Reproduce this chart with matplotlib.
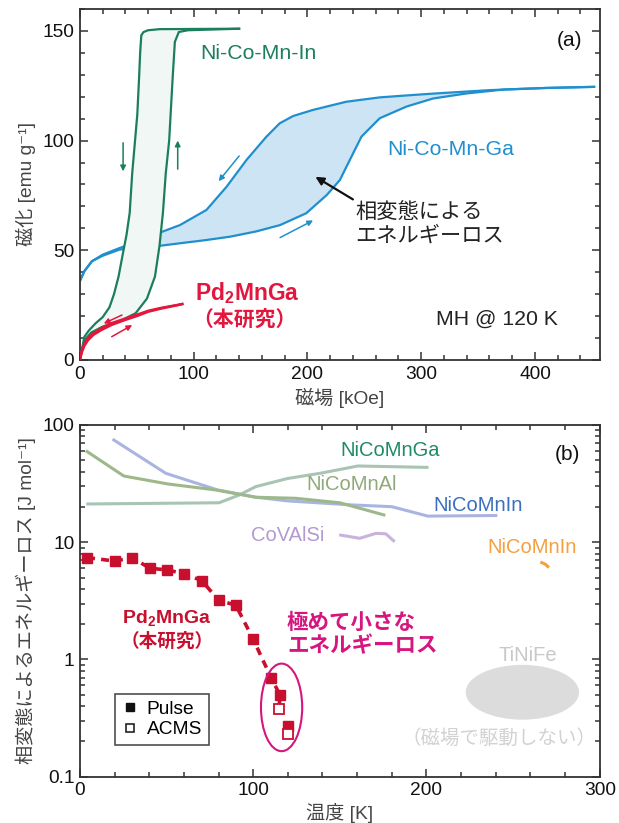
import matplotlib
matplotlib.use("Agg")
import matplotlib.pyplot as plt
from matplotlib.patches import Ellipse
from matplotlib.lines import Line2D
from matplotlib.ticker import MultipleLocator, LogLocator, NullFormatter, FixedLocator
import numpy as np

plt.rcParams['font.family'] = ['Liberation Sans', 'Noto Sans CJK JP', 'DejaVu Sans']
plt.rcParams['mathtext.fontset'] = 'custom'
plt.rcParams['mathtext.rm'] = 'Liberation Sans'
plt.rcParams['mathtext.bf'] = 'Liberation Sans:bold'

# ---------------- panel (a) data ----------------
# Ni-Co-Mn-In : increasing field branch
in_up_H = [0, 4, 10, 20, 37, 49, 59, 66, 70, 73, 75.5, 78.5, 81.5, 83.5, 87, 95, 140]
in_up_M = [0, 9, 12.5, 15.2, 18.2, 21.3, 28, 38, 52, 67, 85, 100, 128, 145, 149.5, 150.3, 151]
# Ni-Co-Mn-In : decreasing field branch
in_dn_H = [140, 70, 60, 56, 54, 53, 52, 50.5, 48.5, 46, 43.8, 41, 38, 34, 30, 26, 20, 14, 8, 4, 0]
in_dn_M = [151, 150.8, 150.3, 149.5, 148, 140, 128, 112, 100, 85, 67, 57, 49, 38, 30, 24, 19.5, 16.8, 13.5, 10.6, 0]

# Ni-Co-Mn-Ga : increasing field branch
ga_up_H = [0, 4, 10.6, 20, 34.8, 50, 71, 88, 110, 132, 155, 176, 199, 217, 228.5, 237.3, 247.5, 263.6, 287, 310.5, 340, 373, 410, 452]
ga_up_M = [36, 40.5, 45, 47.5, 50.3, 51.2, 52.1, 53.2, 54.6, 56.2, 58.6, 61.5, 66.9, 75.2, 82, 91.2, 101.8, 110.2, 115.5, 119.2, 121.5, 123.3, 124, 124.5]
# Ni-Co-Mn-Ga : decreasing field branch
ga_dn_H = [452, 410, 360, 313, 293, 263.6, 234, 205, 187.4, 175.7, 164, 146.5, 129, 111.3, 88, 71, 56, 34.8, 20, 10.6, 4, 0]
ga_dn_M = [124.5, 124, 123, 121.5, 120.8, 119.7, 117.7, 114, 111.2, 107.9, 101.8, 91.2, 79, 68.4, 61.5, 58.2, 54.9, 51, 48, 45, 40.5, 36]

# Pd2MnGa
pd_up_H = [0, 1.5, 4, 7.3, 12, 19, 28, 39.5, 50, 60, 72, 86, 90]
pd_up_M = [0, 3.2, 6.5, 9.1, 11.5, 13.7, 16, 18.2, 20, 22, 23.5, 25, 25.5]
pd_dn_H = [90, 86, 72, 60, 50, 39.5, 28, 19, 12, 7.3, 4, 1.5, 0]
pd_dn_M = [25.5, 25.1, 23.8, 22.4, 20.6, 18.8, 16.8, 14.5, 12.3, 10, 7.5, 4, 0]

# ---------------- panel (b) data ----------------
pulse_T = [4.2, 20.3, 30, 40.4, 50.3, 60, 70.4, 80, 90, 100, 110.3, 115.4, 120]
pulse_E = [7.4, 6.9, 7.4, 6.0, 5.8, 5.4, 4.7, 3.2, 2.9, 1.49, 0.70, 0.50, 0.27]
acms_T = [115, 120]
acms_E = [0.376, 0.23]

nicomnga_T = [4.6, 80.3, 92, 101.5, 120, 138.5, 160.4, 200.3]
nicomnga_E = [21.2, 21.7, 25.3, 29.8, 35, 38.7, 44.7, 43.5]
nicomnin_T = [19.6, 49.6, 79.6, 101.5, 120, 157, 180, 200.8, 240]
nicomnin_E = [74.5, 38.7, 27.9, 24.2, 22.5, 20.8, 20.1, 16.7, 16.9]
nicomnal_T = [4.2, 25.4, 50.8, 78.5, 101.5, 124.6, 150, 175.4]
nicomnal_E = [59.3, 36.7, 31.4, 27.9, 24.2, 23.7, 21.7, 17.1]
covalsi_T = [150.5, 161.5, 170.8, 176.5, 181]
covalsi_E = [11.5, 10.8, 11.9, 11.8, 10.3]
nicomnin2_T = [266.5, 268.5, 270]
nicomnin2_E = [6.7, 6.5, 6.2]

green = '#1b7f5b'
blue = '#1f8fce'
red_a = '#e3173e'
red_b = '#c8102e'
magenta = '#d6157f'
spine_c = '#333333'

fig = plt.figure(figsize=(6.19, 8.23), dpi=100)
ax1 = fig.add_axes([0.129, 0.5626, 0.840, 0.4265])
ax2 = fig.add_axes([0.129, 0.0563, 0.840, 0.4273])

def style(ax):
    for s in ax.spines.values():
        s.set_linewidth(1.3)
        s.set_color(spine_c)
    ax.tick_params(which='both', direction='in', top=True, right=True, colors=spine_c,
                   labelcolor='#111111', labelsize=13.8, width=1.1)
    ax.tick_params(which='major', length=6, pad=4)
    ax.tick_params(which='minor', length=3.5)

# ---------------- panel (a) ----------------
style(ax1)
ax1.set_xlim(0, 457)
ax1.set_ylim(0, 160)
ax1.xaxis.set_major_locator(FixedLocator([0, 100, 200, 300, 400]))
ax1.xaxis.set_minor_locator(MultipleLocator(20))
ax1.yaxis.set_major_locator(FixedLocator([0, 50, 100, 150]))
ax1.yaxis.set_minor_locator(MultipleLocator(10))

ax1.fill(ga_up_H + ga_dn_H, ga_up_M + ga_dn_M, color='#cde4f4', lw=0, zorder=1)
ax1.plot(ga_up_H, ga_up_M, color=blue, lw=1.6, zorder=2)
ax1.plot(ga_dn_H, ga_dn_M, color=blue, lw=1.6, zorder=2)
ax1.fill(in_up_H + in_dn_H, in_up_M + in_dn_M, color='#f1f7f4', lw=0, zorder=3)
ax1.plot(in_up_H, in_up_M, color=green, lw=1.6, zorder=4)
ax1.plot(in_dn_H, in_dn_M, color=green, lw=1.6, zorder=4)
ax1.plot(pd_up_H, pd_up_M, color=red_a, lw=1.8, zorder=5)
ax1.plot(pd_dn_H, pd_dn_M, color=red_a, lw=1.8, zorder=5)

def arr(ax, xy_from, xy_to, c, lw=1.1, ms=8):
    ax.annotate('', xy=xy_to, xytext=xy_from,
                arrowprops=dict(arrowstyle='-|>', color=c, lw=lw, mutation_scale=ms,
                                shrinkA=0, shrinkB=0), zorder=6)

arr(ax1, (38, 99), (38, 86), green)
arr(ax1, (86, 87), (86, 100), green)
arr(ax1, (140, 93), (122, 81.5), blue)
arr(ax1, (176, 55.8), (205, 63.6), blue)
arr(ax1, (37, 20.5), (21, 16.6), red_a)
arr(ax1, (28, 10.6), (46, 15.9), red_a)
ax1.annotate('', xy=(207, 83.5), xytext=(240, 73.2),
             arrowprops=dict(arrowstyle='-|>', color='#111111', lw=1.6, mutation_scale=12,
                             shrinkA=0, shrinkB=0), zorder=6)

ax1.text(106, 139.5, 'Ni-Co-Mn-In', color=green, fontsize=15.3, va='center', ha='left')
ax1.text(270, 96, 'Ni-Co-Mn-Ga', color=blue, fontsize=15.3, va='center', ha='left')
ax1.text(242, 62, '相変態による\nエネルギーロス', color='#222222', fontsize=15.3,
         va='center', ha='left', linespacing=1.2)
ax1.text(101, 30.5, r'Pd$_\mathbf{2}$MnGa', color=red_a, fontsize=16.5, fontweight='bold',
         va='center', ha='left')
ax1.text(99, 18.2, '（本研究）', color=red_a, fontsize=15, fontweight='bold',
         va='center', ha='left')
ax1.text(313, 18.6, 'MH @ 120 K', color='#222222', fontsize=15.3, va='center', ha='left')
ax1.text(430, 145.7, '(a)', color='#111111', fontsize=15, va='center', ha='center')

ax1.set_xlabel('磁場 [kOe]', fontsize=13.8, color='#444444')
ax1.set_ylabel('磁化 [emu g⁻¹]', fontsize=13.8, color='#444444')
ax1.xaxis.set_label_coords(0.5, -0.08)
ax1.yaxis.set_label_coords(-0.084, 0.5)

# ---------------- panel (b) ----------------
style(ax2)
ax2.set_yscale('log')
ax2.set_xlim(0, 300)
ax2.set_ylim(0.1, 100)
ax2.xaxis.set_major_locator(FixedLocator([0, 100, 200, 300]))
ax2.xaxis.set_minor_locator(MultipleLocator(20))
ax2.yaxis.set_major_locator(FixedLocator([0.1, 1, 10, 100]))
ax2.yaxis.set_minor_locator(LogLocator(base=10, subs=np.arange(2, 10)))
ax2.yaxis.set_minor_formatter(NullFormatter())
ax2.set_yticklabels(['0.1', '1', '10', '100'])
ax2.set_xticklabels(['0', '100', '200', '300'])

ax2.plot(nicomnga_T, nicomnga_E, color='#a9c4b5', lw=2.2, zorder=2)
ax2.plot(nicomnin_T, nicomnin_E, color='#aab4e0', lw=2.2, zorder=2)
ax2.plot(nicomnal_T, nicomnal_E, color='#9db88a', lw=2.2, zorder=2)
ax2.plot(covalsi_T, covalsi_E, color='#c8b3dd', lw=2.2, zorder=2)
ax2.plot(nicomnin2_T, nicomnin2_E, color='#f5a040', lw=2.2, zorder=2)

line_T = pulse_T[:-1] + acms_T[:1]
line_E = pulse_E[:-1] + acms_E[:1]
ax2.plot(line_T, line_E, color=red_b, lw=2.6, dashes=(2.2, 1.7), zorder=3)
ax2.plot(pulse_T, pulse_E, ls='none', marker='s', ms=7, color=red_b, mec=red_b, zorder=4)
ax2.plot(acms_T, acms_E, ls='none', marker='s', ms=6.5, mfc='white', mec=red_b, mew=1.3, zorder=5)

ax2.add_patch(Ellipse((0.388, 0.197), 0.0793, 0.249, transform=ax2.transAxes,
                      fill=False, ec=magenta, lw=1.5, zorder=6))
ax2.add_patch(Ellipse((0.851, 0.24), 0.218, 0.156, transform=ax2.transAxes,
                      fc='#dcdcdc', ec='none', zorder=1))

ax2.text(179, 61, 'NiCoMnGa', color='#1f8a6a', fontsize=14.5, ha='center', va='center')
ax2.text(157, 30.8, 'NiCoMnAl', color='#8faa78', fontsize=14.5, ha='center', va='center')
ax2.text(230, 20.5, 'NiCoMnIn', color='#3a6fc0', fontsize=14.5, ha='center', va='center')
ax2.text(120, 11.5, 'CoVAlSi', color='#b39ad0', fontsize=14.5, ha='center', va='center')
ax2.text(260.8, 9.0, 'NiCoMnIn', color='#f5a040', fontsize=14.5, ha='center', va='center')
ax2.text(258.4, 1.09, 'TiNiFe', color='#c8c8c8', fontsize=14.5, ha='center', va='center')
ax2.text(241.7, 0.21, '（磁場で駆動しない）', color='#d2d2d2', fontsize=14, ha='center', va='center')
ax2.text(50.3, 2.2, r'Pd$_\mathbf{2}$MnGa', color=red_b, fontsize=14, fontweight='bold',
         ha='center', va='center')
ax2.text(50.3, 1.42, '（本研究）', color=red_b, fontsize=13.4, fontweight='bold',
         ha='center', va='center')
ax2.text(119.5, 1.62, '極めて小さな\nエネルギーロス', color=magenta, fontsize=15.5,
         fontweight='bold', ha='left', va='center', linespacing=1.15)
ax2.text(281.5, 55.5, '(b)', color='#111111', fontsize=15, ha='center', va='center')

handles = [Line2D([], [], ls='none', marker='s', ms=6, color='#111111'),
           Line2D([], [], ls='none', marker='s', ms=6, mfc='white', mec='#111111', mew=1.1)]
leg = ax2.legend(handles, ['Pulse', 'ACMS'], loc='lower left', bbox_to_anchor=(0.068, 0.09),
                 fontsize=13.8, frameon=True, fancybox=False, edgecolor='#222222',
                 handlelength=0.8, handletextpad=0.5, borderpad=0.35, labelspacing=0.15,
                 borderaxespad=0)
leg.get_frame().set_linewidth(1.2)

ax2.set_xlabel('温度 [K]', fontsize=13.8, color='#444444')
ax2.set_ylabel('相変態によるエネルギーロス [J mol⁻¹]', fontsize=13.8, color='#444444')
ax2.xaxis.set_label_coords(0.5, -0.075)
ax2.yaxis.set_label_coords(-0.084, 0.5)

fig.savefig('out.png', dpi=100)
